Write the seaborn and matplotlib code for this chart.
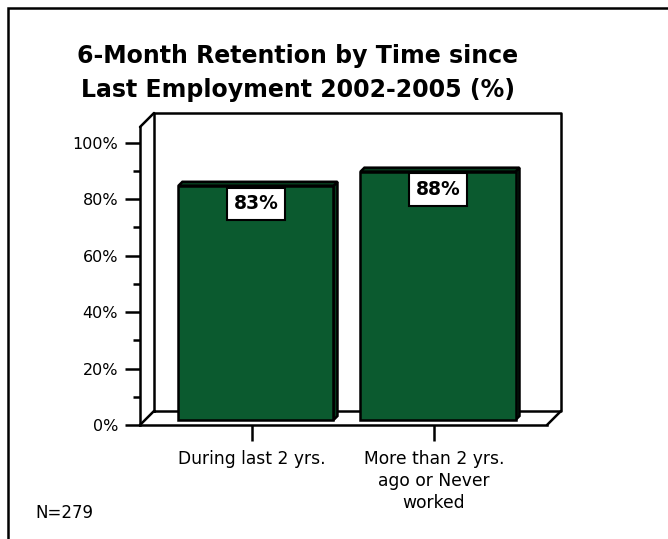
import matplotlib.pyplot as plt
import matplotlib.transforms as mtransforms
from matplotlib.patches import Polygon, Rectangle
from matplotlib.ticker import MultipleLocator
import seaborn as sns

# data
categories = ["During last 2 yrs.", "More than 2 yrs.\nago or Never\nworked"]
retention = [83, 88]
bar_labels = ["83%", "88%"]
y_ticks = [0, 20, 40, 60, 80, 100]
y_tick_labels = ["0%", "20%", "40%", "60%", "80%", "100%"]
title_lines = ["6-Month Retention by Time since", "Last Employment 2002-2005 (%)"]
note = "N=279"

sns.set_style("white")
plt.rcParams["font.family"] = ["DejaVu Sans"]
plt.rcParams["text.color"] = "black"
plt.rcParams["xtick.color"] = "black"
plt.rcParams["ytick.color"] = "black"
plt.rcParams["axes.labelcolor"] = "black"

green = "#0b5a2f"
dark_green = "#063a1c"
lw = 1.8

fig = plt.figure(figsize=(6.68, 5.39), dpi=100)
ax = fig.add_axes([140 / 668, 114 / 539, 407 / 668, 298 / 539])

sns.barplot(x=categories, y=retention, color=green, saturation=1, width=0.852,
            edgecolor="black", linewidth=lw, ax=ax, zorder=3)
ax.set_xlim(-0.615, 1.621)
ax.set_ylim(0, 105.6)
ax.set_xlabel("")
ax.set_ylabel("")

# axes look
for side in ["top", "right"]:
    ax.spines[side].set_visible(False)
for side in ["left", "bottom"]:
    ax.spines[side].set_color("black")
    ax.spines[side].set_linewidth(lw)
    ax.spines[side].set_zorder(5)

ax.set_yticks(y_ticks)
ax.set_yticklabels(y_tick_labels)
ax.yaxis.set_minor_locator(MultipleLocator(10))
ax.tick_params(axis="y", which="major", left=True, length=10.8, width=lw,
               pad=5, labelsize=11.5, color="black", labelcolor="black", direction="out")
ax.tick_params(axis="y", which="minor", left=True, length=5, width=lw,
               color="black", direction="out")
ax.tick_params(axis="x", bottom=True, length=11.5, width=lw, pad=6.5,
               labelsize=12.3, color="black", labelcolor="black", direction="out")
for lbl in ax.get_xticklabels():
    lbl.set_linespacing(1.3)

# 3D box: left wall, back wall and floor (display pixels)
ident = mtransforms.IdentityTransform()
d = 14
p00 = ax.transAxes.transform((0, 0))
p01 = ax.transAxes.transform((0, 1))
p10 = ax.transAxes.transform((1, 0))
p11 = ax.transAxes.transform((1, 1))
wall = [p00 + d, p10 + d, p11 + d, p01 + d, p00 + d]
ax.plot([p[0] for p in wall], [p[1] for p in wall], color="black", lw=lw,
        transform=ident, clip_on=False, zorder=1, scalex=False, scaley=False)
for p in [p00, p01, p10]:
    ax.plot([p[0], p[0] + d], [p[1], p[1] + d], color="black", lw=lw,
            transform=ident, clip_on=False, zorder=1, scalex=False, scaley=False)

# bars: shift to the middle of the depth and add side/top faces
shift = mtransforms.ScaledTranslation(4 / 100, 5 / 100, fig.dpi_scale_trans)
bar_trans = ax.transData + shift
bd = 4
for p, lbl in zip(ax.patches, bar_labels):
    p.set_transform(bar_trans)
    x0, y0 = bar_trans.transform((p.get_x(), p.get_y()))
    x1, y1 = bar_trans.transform((p.get_x() + p.get_width(), p.get_y() + p.get_height()))
    side = Polygon([(x1, y0), (x1 + bd, y0 + bd), (x1 + bd, y1 + bd), (x1, y1)],
                   closed=True, transform=ident, facecolor=dark_green,
                   edgecolor="black", lw=lw, zorder=2.9, clip_on=False)
    top = Polygon([(x0, y1), (x0 + bd, y1 + bd), (x1 + bd, y1 + bd), (x1, y1)],
                  closed=True, transform=ident, facecolor=dark_green,
                  edgecolor="black", lw=lw, zorder=2.9, clip_on=False)
    ax.add_patch(side)
    ax.add_patch(top)
    ax.annotate(lbl, xy=(p.get_x() + p.get_width() / 2, p.get_height()),
                xycoords=bar_trans, xytext=(0, -6), textcoords="offset points",
                ha="center", va="top", fontsize=13.5, fontweight="bold", color="black",
                bbox=dict(boxstyle="square,pad=0.35", fc="white", ec="black", lw=1.5),
                zorder=6)

# titles and note
fig.text(298 / 668, 1 - 63 / 539, title_lines[0], ha="center", va="baseline",
         fontsize=17, fontweight="bold", color="black")
fig.text(298 / 668, 1 - 97 / 539, title_lines[1], ha="center", va="baseline",
         fontsize=17, fontweight="bold", color="black")
fig.text(35 / 668, 1 - 518 / 539, note, ha="left", va="baseline", fontsize=12,
         color="black")

# outer frame
fig.add_artist(Rectangle((8 / 668, -0.1), 1.2, 1 - 8 / 539 + 0.1,
                         transform=fig.transFigure, fill=False,
                         edgecolor="black", lw=lw))

fig.savefig("out.png", dpi=100, facecolor="white")
